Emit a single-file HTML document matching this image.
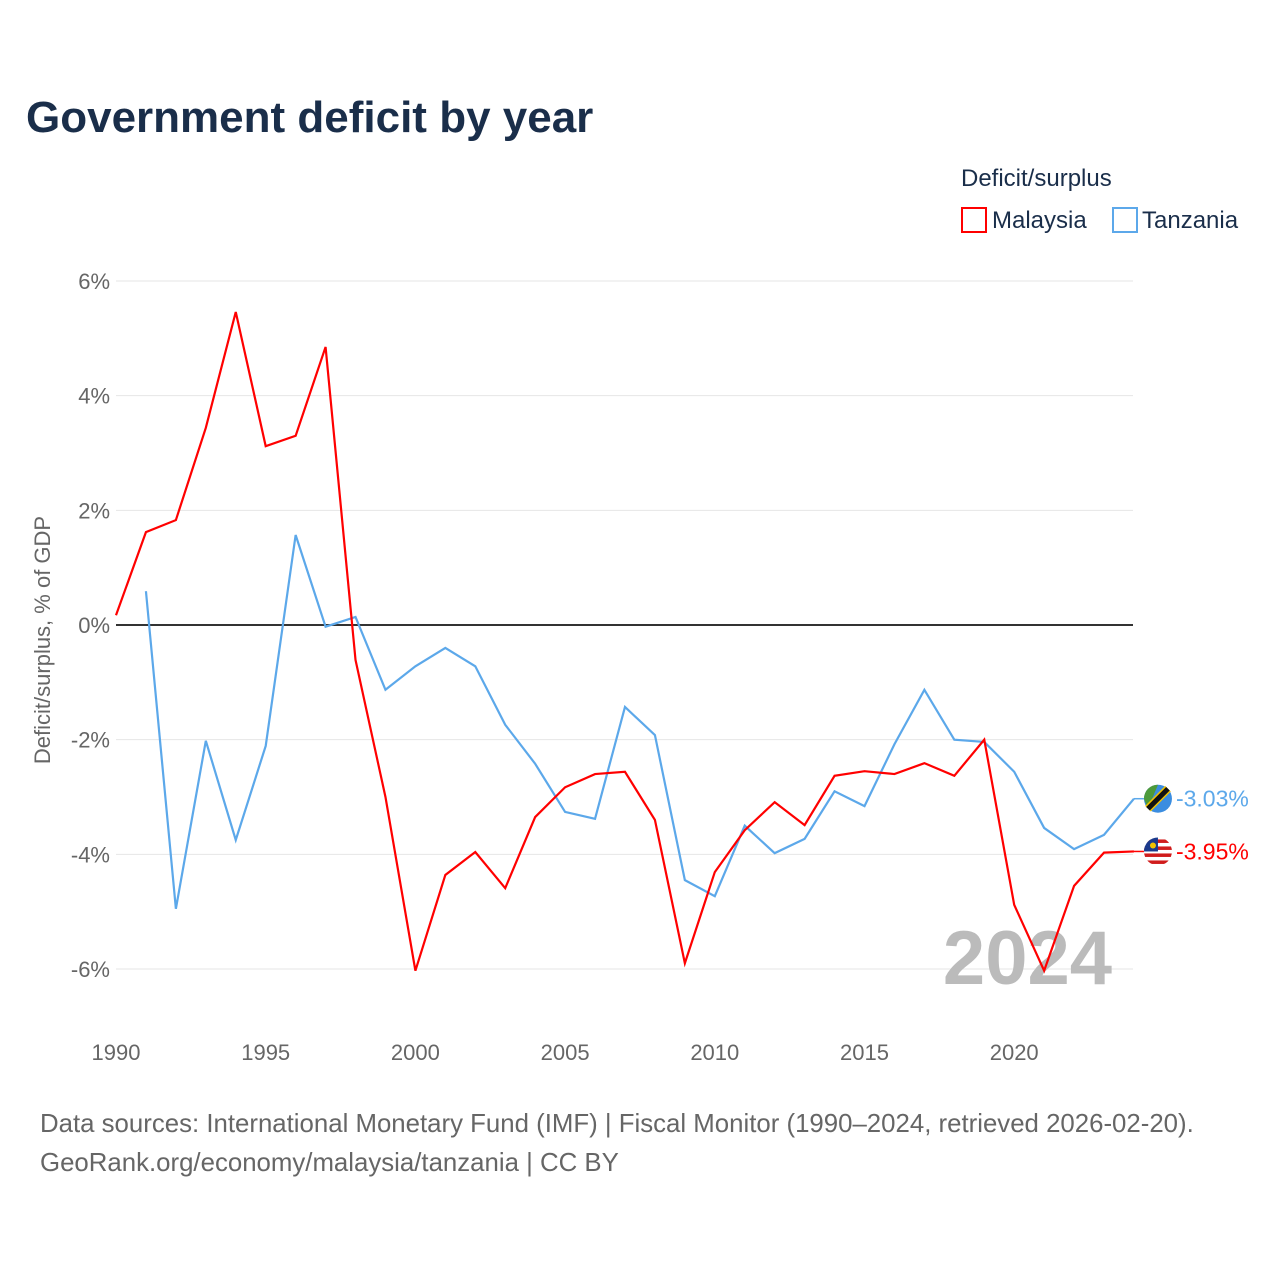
<!DOCTYPE html>
<html><head><meta charset="utf-8"><style>
body{margin:0;background:#fff;font-family:"Liberation Sans",sans-serif}
</style></head><body>
<svg width="1280" height="1280" xmlns="http://www.w3.org/2000/svg" style="font-family:'Liberation Sans',sans-serif">
<defs><clipPath id="clipMy"><circle id="clipC" r="14"/></clipPath></defs>
<text x="26" y="132" font-size="44" font-weight="bold" fill="#1a2e4a">Government deficit by year</text>
<text x="961" y="186" font-size="24" fill="#1a2e4a">Deficit/surplus</text>
<g><rect x="962" y="208" width="24" height="24" fill="none" stroke="#ff0000" stroke-width="2"/><text x="992" y="228" font-size="24" fill="#1a2e4a">Malaysia</text></g>
<g><rect x="1113" y="208" width="24" height="24" fill="none" stroke="#5ca8ea" stroke-width="2"/><text x="1142" y="228" font-size="24" fill="#1a2e4a">Tanzania</text></g>
<g id="grid"></g>
<g id="yticks"></g>
<g id="xticks"></g>
<text transform="translate(50,640) rotate(-90)" text-anchor="middle" font-size="22" fill="#666">Deficit/surplus, % of GDP</text>
<text x="1112" y="984" text-anchor="end" font-size="76" font-weight="bold" fill="#bbb">2024</text>
<line id="zero" stroke="#333" stroke-width="2"/>
<path id="tz" fill="none" stroke="#5ca8ea" stroke-width="2.2"/>
<path id="my" fill="none" stroke="#ff0000" stroke-width="2.2"/>
<g id="labels"></g>
<text x="40" y="1132" font-size="25.8" fill="#666">Data sources: International Monetary Fund (IMF) | Fiscal Monitor (1990–2024, retrieved 2026-02-20).</text>
<text x="40" y="1171" font-size="25.8" fill="#666">GeoRank.org/economy/malaysia/tanzania | CC BY</text>
</svg>
<script>
const years=[];for(let y=1990;y<=2024;y++)years.push(y);
const malaysia=[0.17,1.62,1.83,3.44,5.46,3.12,3.30,4.85,-0.61,-3.0,-6.03,-4.36,-3.96,-4.59,-3.35,-2.83,-2.6,-2.56,-3.4,-5.9,-4.31,-3.58,-3.09,-3.49,-2.63,-2.55,-2.6,-2.41,-2.63,-2.0,-4.88,-6.03,-4.55,-3.97,-3.95];
const tanzania=[null,0.59,-4.95,-2.02,-3.75,-2.11,1.57,-0.03,0.14,-1.13,-0.72,-0.4,-0.72,-1.74,-2.42,-3.26,-3.38,-1.43,-1.92,-4.45,-4.73,-3.5,-3.98,-3.73,-2.9,-3.16,-2.08,-1.13,-2.0,-2.04,-2.56,-3.54,-3.91,-3.66,-3.03];
const yTicks=[6,4,2,0,-2,-4,-6];
const xTicks=[1990,1995,2000,2005,2010,2015,2020];
const NS="http://www.w3.org/2000/svg";
const X=y=>116+(y-1990)*29.94, Y=v=>625-v*57.33;
const x0=116,x1=1133;
function el(t,a,p){const e=document.createElementNS(NS,t);for(const k in a)e.setAttribute(k,a[k]);(typeof p==='string'?document.getElementById(p):p).appendChild(e);return e;}
yTicks.forEach(v=>{
 if(v!==0){const l=el('line',{x1:x0,x2:x1,y1:Y(v),y2:Y(v),stroke:'#e6e6e6','stroke-width':1},'grid');
 
 }
 const t=el('text',{x:110,y:Y(v)+8,'text-anchor':'end','font-size':22,fill:'#666'},'yticks');t.textContent=v+'%';
 
 
});
xTicks.forEach(v=>{const t=el('text',{x:X(v),y:1060,'text-anchor':'middle','font-size':22,fill:'#666'},'xticks');t.textContent=v;
 
 });
const z=document.getElementById('zero');z.setAttribute('x1',x0);z.setAttribute('x2',x1);z.setAttribute('y1',Y(0));z.setAttribute('y2',Y(0));
function path(d){let s='',m=true;d.forEach((v,i)=>{if(v===null){m=true;return;}s+=(m?'M':'L')+X(years[i])+','+Y(v);m=false;});return s;}
document.getElementById('my').setAttribute('d',path(malaysia));
document.getElementById('tz').setAttribute('d',path(tanzania));
function endLabel(v,color,flag){
 const cx=X(2024)+24,cy=Y(v);
 const g=el('g',{},'labels');
 
 
 el('line',{x1:X(2024),x2:cx-14,y1:cy,y2:cy,stroke:color,'stroke-width':1.5},g);
 if(flag==='tanzania'){
  el('circle',{cx:cx,cy:cy,r:14,fill:'#3b8de0'},g);
  el('path',{d:`M${cx-14},${cy} A14,14 0 0 1 ${cx},${cy-14} L${cx-10},${cy+10} Z`,fill:'#4d9a3a'},g);
  el('line',{x1:cx-10,y1:cy+10,x2:cx+10,y2:cy-10,stroke:'#f2c200','stroke-width':8},g);
  el('line',{x1:cx-10,y1:cy+10,x2:cx+10,y2:cy-10,stroke:'#111','stroke-width':5},g);
 }else{
  const c=document.getElementById('clipC');c.setAttribute('cx',cx);c.setAttribute('cy',cy);
  const f=el('g',{'clip-path':'url(#clipMy)'},g);
  el('rect',{x:cx-14,y:cy-14,width:28,height:28,fill:'#fff'},f);
  for(let i=0;i<4;i++)el('rect',{x:cx-14,y:cy-12+i*7,width:28,height:3.5,fill:'#d01c1c'},f);
  el('rect',{x:cx-14,y:cy-14,width:14,height:14,fill:'#1b3a8c'},f);
  el('circle',{cx:cx-5,cy:cy-6,r:3,fill:'#f2c200'},f);
 }
 const t=el('text',{x:cx+18,y:cy+8,'font-size':23,fill:color},g);t.textContent=v.toFixed(2)+'%';
 
 
}
endLabel(tanzania[tanzania.length-1],'#5ca8ea','tanzania');
endLabel(malaysia[malaysia.length-1],'#ff0000','malaysia');
</script>
</body></html>
